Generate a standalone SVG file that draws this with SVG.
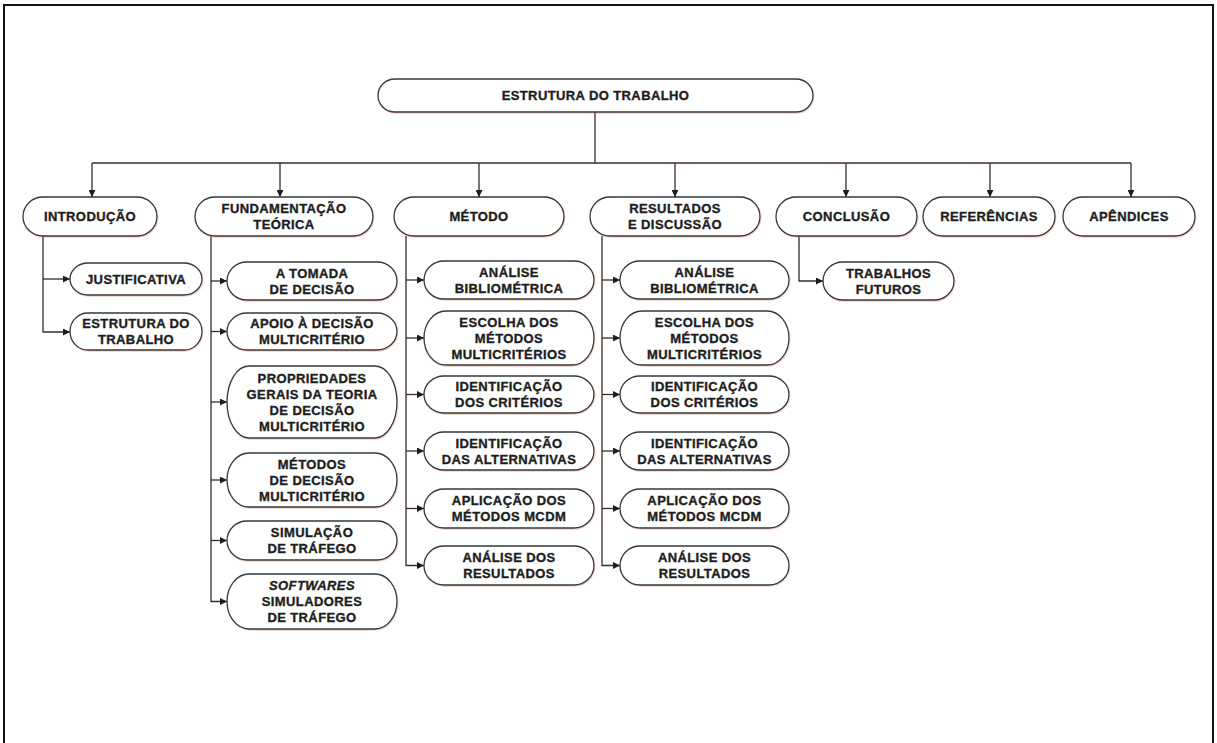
<svg xmlns="http://www.w3.org/2000/svg" width="1217" height="743" viewBox="0 0 1217 743">
<style>
.bg{fill:#fff}
.frame{fill:none;stroke:#111;stroke-width:2}
.n rect{fill:#fff;stroke:#2e3a3d;stroke-width:1.3;filter:url(#sh)}
.n text{font-family:"Liberation Sans",Arial,sans-serif;font-weight:bold;font-size:13px;letter-spacing:0.4px;fill:#1e1e1e;stroke:#1e1e1e;stroke-width:0.35;text-anchor:middle}
.c path{fill:none;stroke:#3a2c28;stroke-width:1.3}
.c path.a{marker-end:url(#ah)}
</style>
<defs>
<marker id="ah" viewBox="0 0 10 10" refX="10" refY="5" markerWidth="8" markerHeight="7" markerUnits="userSpaceOnUse" orient="auto">
<path d="M0,0 L10,5 L0,10 z" fill="#1e1e1e"/>
</marker>
<filter id="sh" x="-5%" y="-10%" width="110%" height="125%">
<feDropShadow dx="0.6" dy="1" stdDeviation="0.6" flood-color="#d9704f" flood-opacity="0.35"/>
</filter>
</defs>
<rect class="bg" x="0" y="0" width="1217" height="743"/>
<rect class="frame" x="4" y="5" width="1209" height="760"/>

<g class="c" id="connectors">
<path d="M595,112 V163"/>
<path d="M92,163 H1131"/>
<path class="a" d="M92,163 V197"/>
<path class="a" d="M280,163 V197"/>
<path class="a" d="M479,163 V197"/>
<path class="a" d="M675,163 V197"/>
<path class="a" d="M846,163 V197"/>
<path class="a" d="M990,163 V197"/>
<path class="a" d="M1131,163 V197"/>
<path class="a" d="M43,236 V332 H70"/>
<path class="a" d="M43,279 H70"/>
<path class="a" d="M211,236 V601.5 H227"/>
<path class="a" d="M211,281 H227"/>
<path class="a" d="M211,331.5 H227"/>
<path class="a" d="M211,402 H227"/>
<path class="a" d="M211,480 H227"/>
<path class="a" d="M211,540.5 H227"/>
<path class="a" d="M406,236 V565.5 H424"/>
<path class="a" d="M406,280 H424"/>
<path class="a" d="M406,338 H424"/>
<path class="a" d="M406,394.5 H424"/>
<path class="a" d="M406,451 H424"/>
<path class="a" d="M406,508.5 H424"/>
<path class="a" d="M602,236 V565.5 H620"/>
<path class="a" d="M602,280 H620"/>
<path class="a" d="M602,338 H620"/>
<path class="a" d="M602,394.5 H620"/>
<path class="a" d="M602,451 H620"/>
<path class="a" d="M602,508.5 H620"/>
<path class="a" d="M799,236 V281 H823"/>
</g>

<g class="n" id="root"><rect x="378" y="79" width="435" height="33" rx="17" ry="16.5"/><text x="595.5" y="100.2">ESTRUTURA DO TRABALHO</text></g>

<g class="n" id="introducao"><rect x="23" y="197" width="134" height="39" rx="20" ry="19.5"/><text x="90" y="221.2">INTRODUÇÃO</text></g>
<g class="n" id="fundamentacao"><rect x="195" y="197" width="178" height="39" rx="20" ry="19.5"/><text x="284" y="213.2">FUNDAMENTAÇÃO</text><text x="284" y="229.2">TEÓRICA</text></g>
<g class="n" id="metodo"><rect x="394" y="197" width="170" height="39" rx="20" ry="19.5"/><text x="479" y="221.2">MÉTODO</text></g>
<g class="n" id="resultados"><rect x="590" y="197" width="170" height="39" rx="20" ry="19.5"/><text x="675" y="213.2">RESULTADOS</text><text x="675" y="229.2">E DISCUSSÃO</text></g>
<g class="n" id="conclusao"><rect x="776" y="197" width="141" height="39" rx="20" ry="19.5"/><text x="846.5" y="221.2">CONCLUSÃO</text></g>
<g class="n" id="referencias"><rect x="923" y="197" width="132" height="39" rx="20" ry="19.5"/><text x="989" y="221.2">REFERÊNCIAS</text></g>
<g class="n" id="apendices"><rect x="1063" y="197" width="132" height="39" rx="20" ry="19.5"/><text x="1129" y="221.2">APÊNDICES</text></g>

<g class="n" id="justificativa"><rect x="70" y="263" width="132" height="32" rx="18" ry="16"/><text x="136" y="283.7">JUSTIFICATIVA</text></g>
<g class="n" id="estrutura-trabalho"><rect x="70" y="313" width="132" height="37" rx="18" ry="18.5"/><text x="136" y="328.2">ESTRUTURA DO</text><text x="136" y="344.2">TRABALHO</text></g>

<g class="n" id="tomada-decisao"><rect x="227" y="262" width="170" height="38" rx="20" ry="19"/><text x="312" y="277.7">A TOMADA</text><text x="312" y="293.7">DE DECISÃO</text></g>
<g class="n" id="apoio-decisao"><rect x="227" y="313" width="170" height="37" rx="20" ry="18.5"/><text x="312" y="328.2">APOIO À DECISÃO</text><text x="312" y="344.2">MULTICRITÉRIO</text></g>
<g class="n" id="propriedades"><rect x="227" y="366" width="170" height="72" rx="22" ry="36"/><text x="312" y="382.7">PROPRIEDADES</text><text x="312" y="398.7">GERAIS DA TEORIA</text><text x="312" y="414.7">DE DECISÃO</text><text x="312" y="430.7">MULTICRITÉRIO</text></g>
<g class="n" id="metodos-decisao"><rect x="227" y="453" width="170" height="54" rx="22" ry="27"/><text x="312" y="468.7">MÉTODOS</text><text x="312" y="484.7">DE DECISÃO</text><text x="312" y="500.7">MULTICRITÉRIO</text></g>
<g class="n" id="simulacao"><rect x="227" y="521" width="170" height="39" rx="20" ry="19.5"/><text x="312" y="537.2">SIMULAÇÃO</text><text x="312" y="553.2">DE TRÁFEGO</text></g>
<g class="n" id="softwares"><rect x="227" y="574" width="170" height="55" rx="22" ry="27.5"/><text x="312" y="590.2" font-style="italic">SOFTWARES</text><text x="312" y="606.2">SIMULADORES</text><text x="312" y="622.2">DE TRÁFEGO</text></g>

<g class="n" id="m-analise-biblio"><rect x="424" y="261" width="170" height="38" rx="20" ry="19"/><text x="509" y="276.7">ANÁLISE</text><text x="509" y="292.7">BIBLIOMÉTRICA</text></g>
<g class="n" id="m-escolha"><rect x="424" y="311" width="170" height="54" rx="22" ry="27"/><text x="509" y="326.7">ESCOLHA DOS</text><text x="509" y="342.7">MÉTODOS</text><text x="509" y="358.7">MULTICRITÉRIOS</text></g>
<g class="n" id="m-criterios"><rect x="424" y="376" width="170" height="37" rx="20" ry="18.5"/><text x="509" y="391.2">IDENTIFICAÇÃO</text><text x="509" y="407.2">DOS CRITÉRIOS</text></g>
<g class="n" id="m-alternativas"><rect x="424" y="432" width="170" height="38" rx="20" ry="19"/><text x="509" y="447.7">IDENTIFICAÇÃO</text><text x="509" y="463.7">DAS ALTERNATIVAS</text></g>
<g class="n" id="m-aplicacao"><rect x="424" y="489" width="170" height="39" rx="20" ry="19.5"/><text x="509" y="505.2">APLICAÇÃO DOS</text><text x="509" y="521.2">MÉTODOS MCDM</text></g>
<g class="n" id="m-analise-result"><rect x="424" y="546" width="170" height="39" rx="20" ry="19.5"/><text x="509" y="562.2">ANÁLISE DOS</text><text x="509" y="578.2">RESULTADOS</text></g>

<g class="n" id="r-analise-biblio"><rect x="620" y="261" width="169" height="38" rx="20" ry="19"/><text x="704.5" y="276.7">ANÁLISE</text><text x="704.5" y="292.7">BIBLIOMÉTRICA</text></g>
<g class="n" id="r-escolha"><rect x="620" y="311" width="169" height="54" rx="22" ry="27"/><text x="704.5" y="326.7">ESCOLHA DOS</text><text x="704.5" y="342.7">MÉTODOS</text><text x="704.5" y="358.7">MULTICRITÉRIOS</text></g>
<g class="n" id="r-criterios"><rect x="620" y="376" width="169" height="37" rx="20" ry="18.5"/><text x="704.5" y="391.2">IDENTIFICAÇÃO</text><text x="704.5" y="407.2">DOS CRITÉRIOS</text></g>
<g class="n" id="r-alternativas"><rect x="620" y="432" width="169" height="38" rx="20" ry="19"/><text x="704.5" y="447.7">IDENTIFICAÇÃO</text><text x="704.5" y="463.7">DAS ALTERNATIVAS</text></g>
<g class="n" id="r-aplicacao"><rect x="620" y="489" width="169" height="39" rx="20" ry="19.5"/><text x="704.5" y="505.2">APLICAÇÃO DOS</text><text x="704.5" y="521.2">MÉTODOS MCDM</text></g>
<g class="n" id="r-analise-result"><rect x="620" y="546" width="169" height="39" rx="20" ry="19.5"/><text x="704.5" y="562.2">ANÁLISE DOS</text><text x="704.5" y="578.2">RESULTADOS</text></g>

<g class="n" id="trabalhos-futuros"><rect x="823" y="262" width="131" height="38" rx="20" ry="19"/><text x="888.5" y="277.7">TRABALHOS</text><text x="888.5" y="293.7">FUTUROS</text></g>
</svg>
